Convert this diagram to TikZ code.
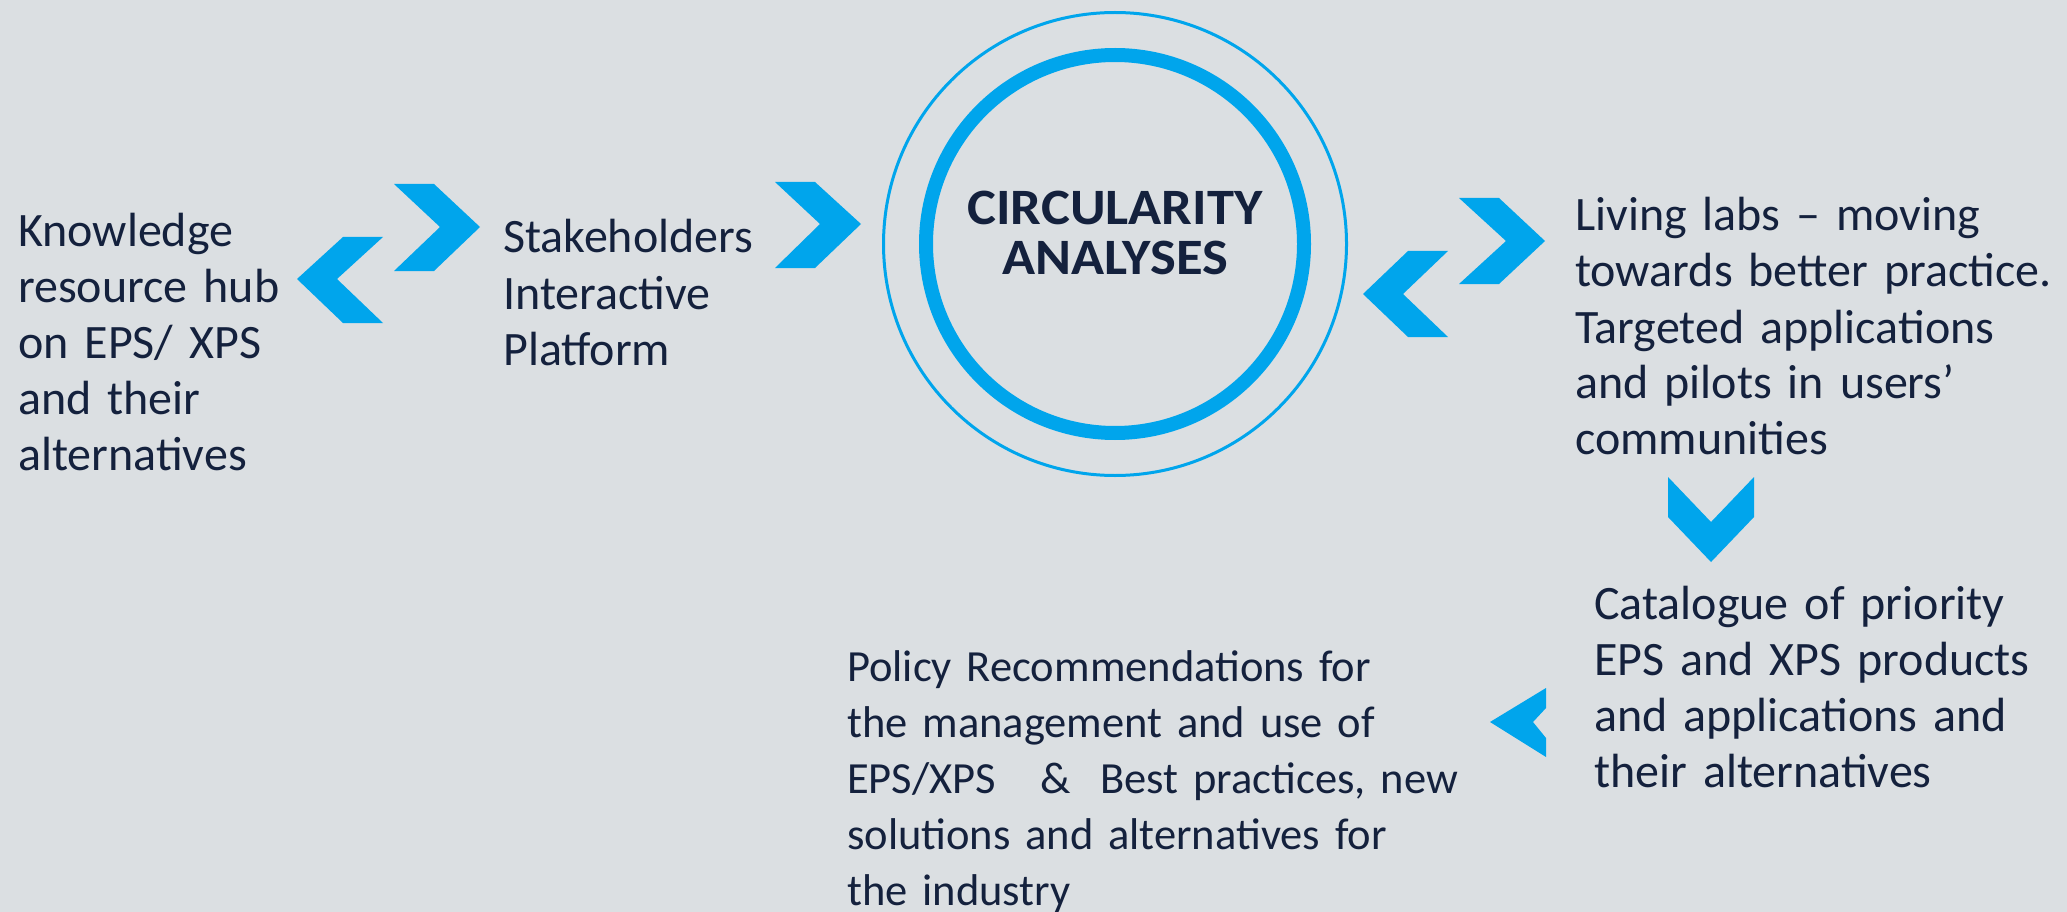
\documentclass[tikz,border=0pt]{standalone}
\usepackage{fontspec}
\usepackage{graphicx}
\setmainfont{Carlito}
\definecolor{bg}{HTML}{DBDFE2}
\definecolor{blue1}{HTML}{00A5EC}
\definecolor{navy}{HTML}{14213D}
\begin{document}
\begin{tikzpicture}[x=1pt,y=-1pt,
  chev/.style={fill=blue1,draw=none},
  txt/.style={anchor=base west,inner sep=0pt,text width=700pt,align=left,text=navy,
    font=\fontsize{48}{56}\selectfont},
  ptxt/.style={anchor=base west,inner sep=0pt,text width=700pt,align=left,text=navy,
    font=\fontsize{44.5}{56}\selectfont},
  ring/.style={circle,draw=blue1,inner sep=0pt},
]
\fill[bg] (0,0) rectangle (2067,912);
\useasboundingbox (0,0) rectangle (2067,912);

% central circle
\node[ring,line width=3pt,minimum size=463pt] (outer) at (1115,244) {};
\node[ring,line width=14pt,minimum size=378pt] (inner) at (1115,244) {};
\node[anchor=base,inner sep=0pt,text width=500pt,align=center,text=navy,
  font=\bfseries\fontsize{51}{50}\selectfont] (center) at (1115,225)
  {\scalebox{1.07}[1]{CIRCULARITY}\\\scalebox{1.07}[1]{ANALYSES}};

% texts
\node[txt] (know) at (18,247) {Knowledge\\resource hub\\on EPS/ XPS\\and their\\alternatives};
\node[txt] (stake) at (503,253) {Stakeholders\\Interactive\\Platform};
\node[txt] (living) at (1575,231) {Living labs – moving\\towards better practice.\\Targeted applications\\and pilots in users’\\communities};
\node[txt] (cat) at (1594,619) {Catalogue of priority\\EPS and XPS products\\and applications and\\their alternatives};
\node[ptxt] (policy) at (847,681) {Policy Recommendations for\\the management and use of\\EPS/XPS\ \ \ \&\ \ Best practices, new\\solutions and alternatives for\\the industry};

% chevrons left pair
\fill[chev] (343,237) -- (383,237) -- (337,279) -- (383,323) -- (343,323) -- (297,279) -- cycle;
\fill[chev] (394,184) -- (434,184) -- (480,227) -- (434,271) -- (394,271) -- (440,227) -- cycle;
% chevron to circle
\fill[chev] (775,182) -- (815,182) -- (861,224) -- (815,268) -- (775,268) -- (820,224) -- cycle;
% right pair
\fill[chev] (1459,198) -- (1499,198) -- (1545,241) -- (1499,284) -- (1459,284) -- (1506,241) -- cycle;
\fill[chev] (1408,251) -- (1448,251) -- (1403,294) -- (1448,337) -- (1408,337) -- (1363,294) -- cycle;
% down chevron
\fill[chev] (1668,477) -- (1711,522) -- (1754,477) -- (1754,517) -- (1711,562) -- (1668,517) -- cycle;
% cut left chevron
\fill[chev] (1490,722) -- (1546,688) -- (1546,708) -- (1533,722) -- (1546,738) -- (1546,757) -- cycle;
\end{tikzpicture}
\end{document}
